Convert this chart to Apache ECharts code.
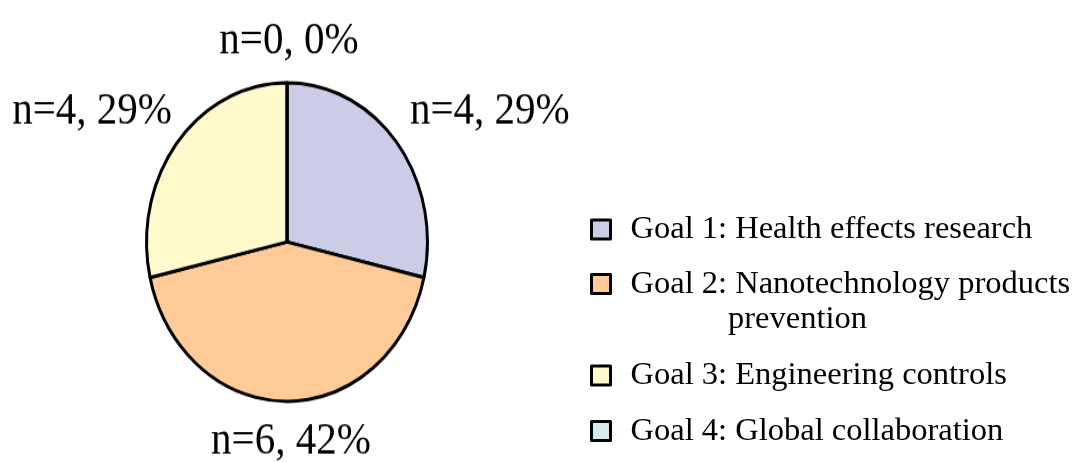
<!DOCTYPE html>
<html>
<head>
<meta charset="utf-8">
<script src="https://cdn.jsdelivr.net/npm/echarts@6/dist/echarts.min.js"></script>
<style>
  html, body { margin: 0; padding: 0; background: #ffffff; }
  #wrap { position: relative; width: 1076px; height: 462px; overflow: hidden; }
  /* the pie is drawn as an upright ellipse: its canvas is stretched vertically */
  #pie { position: absolute; left: 0; top: 0; width: 1076px; height: 408px;
         transform-origin: 0 0; transform: scaleY(1.134); }
  #legend { position: absolute; left: 0; top: 0; width: 1076px; height: 462px; }
</style>
</head>
<body>
<div id="wrap">
  <div id="pie"></div>
  <div id="legend"></div>
</div>
<script>
// Projects per NIOSH goal
const goals = [
  'Goal 1: Health effects research',
  'Goal 2: Nanotechnology products prevention',
  'Goal 3: Engineering controls',
  'Goal 4: Global collaboration'
];
const counts = [4, 6, 4, 0];
const percents = [29, 42, 29, 0];
const colors = ['#CCCCE6', '#FFCC99', '#FFF9CC', '#D2ECF2'];

const Y_STRETCH = 1.134;
const FONT = '"Liberation Serif", "Times New Roman", serif';

const pieData = goals.map((g, i) => ({ name: g, value: counts[i], itemStyle: { color: colors[i] } }));

// label anchors (in screen pixels) for each slice's value text
const labelSpots = [
  { x: 410, y: 111, align: 'left' },
  { x: 291, y: 441, align: 'center' },
  { x: 172, y: 111, align: 'right' },
  { x: 289, y: 41, align: 'center' }
];

const pieChart = echarts.init(document.getElementById('pie'), null, { renderer: 'canvas' });
pieChart.setOption({
  animation: false,
  series: [{
    type: 'pie',
    center: [287, 213.4],
    radius: 140.5,
    startAngle: 90,
    clockwise: true,
    avoidLabelOverlap: false,
    silent: true,
    itemStyle: { borderColor: '#000', borderWidth: 3 },
    label: {
      show: true,
      position: 'outside',
      fontFamily: FONT,
      fontSize: 41,
      color: '#000',
      formatter: p => 'n=' + counts[p.dataIndex] + ', ' + percents[p.dataIndex] + '%'
    },
    labelLine: { show: false },
    labelLayout: p => {
      const s = labelSpots[p.dataIndex];
      return { x: s.x, y: s.y / Y_STRETCH, align: s.align, verticalAlign: 'middle' };
    },
    data: pieData
  }]
});

// legend layer (not stretched)
const legendChart = echarts.init(document.getElementById('legend'), null, { renderer: 'canvas' });
const iconCenters = [228, 288, 374, 429.5];
const legends = goals.map((g, i) => {
  const twoLine = i === 1;
  return {
    data: [g],
    orient: 'vertical',
    left: 590,
    // the two-line entry carries an empty first line so its first text line sits beside the icon
    top: twoLine ? iconCenters[i] - 52.5 - 4 : iconCenters[i] - 11 - 4,
    padding: 0,
    icon: 'rect',
    itemWidth: 19,
    itemHeight: 19,
    selectedMode: false,
    itemStyle: { borderColor: '#000', borderWidth: 3 },
    formatter: name => twoLine
      ? '\n' + name.replace(' prevention', '\n' + ' '.repeat(12) + 'prevention')
      : name,
    textStyle: {
      fontFamily: FONT,
      fontSize: 32.5,
      color: '#000',
      lineHeight: twoLine ? 35 : 22,
      padding: [0, 0, 0, 15]
    }
  };
});
legendChart.setOption({
  animation: false,
  legend: legends,
  series: [{
    type: 'pie',
    center: [-2000, -2000],
    radius: 1,
    silent: true,
    label: { show: false },
    itemStyle: { borderColor: '#000', borderWidth: 3 },
    data: pieData
  }]
});
</script>
</body>
</html>
